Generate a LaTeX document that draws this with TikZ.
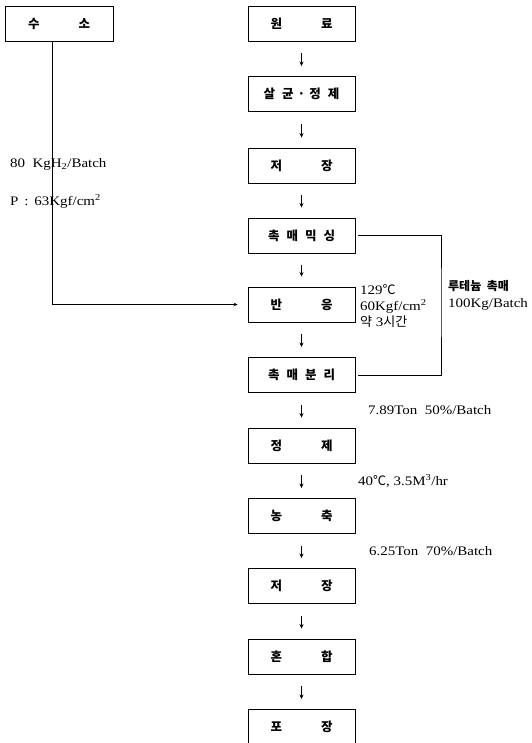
\documentclass[tikz,border=0pt]{standalone}
\usepackage{fontspec}
\setmainfont{Liberation Serif}[FakeStretch=1.15]
\newfontfamily\kr{Noto Sans CJK KR}
\usetikzlibrary{arrows.meta}

% two syllables set wide apart in a box
\newcommand{\spread}[2]{#1\hspace{39pt}#2}

\begin{document}
\begin{tikzpicture}[x=1pt, y=-1pt,
  stage/.style={draw, line width=0.9pt, minimum width=107pt, minimum height=35pt,
    inner sep=0pt, font=\kr\bfseries\fontsize{12.5}{13}\selectfont},
  flow/.style={-{Stealth[length=4.5pt,width=4pt]}, line width=0.7pt,
    shorten <=12pt, shorten >=10pt},
  feed/.style={line width=0.8pt},
  note/.style={anchor=base west, inner sep=0pt, font=\fontsize{13}{16}\selectfont},
  krnote/.style={anchor=base west, inner sep=0pt, font=\kr\bfseries\fontsize{12}{14}\selectfont}]
\useasboundingbox (0,0) rectangle (531,743);

% hydrogen feed
\node[stage, minimum width=108pt] (h2) at (59,23.5) {\spread{수}{소}};

% main line
\node[stage] (raw)    at (301.5,23.5)  {\spread{원}{료}};
\node[stage] (steril) at (301.5,94)    {살\hspace{7pt}균\hspace{4pt}·\hspace{4pt}정\hspace{7pt}제};
\node[stage] (store)  at (301.5,165.5) {\spread{저}{장}};
\node[stage] (mix)    at (301.5,235.5) {촉\hspace{7pt}매\hspace{7pt}믹\hspace{7pt}싱};
\node[stage] (react)  at (301.5,304.5) {\spread{반}{응}};
\node[stage] (sep)    at (301.5,375)   {촉\hspace{7pt}매\hspace{7pt}분\hspace{7pt}리};
\node[stage] (purify) at (301.5,445.5) {\spread{정}{제}};
\node[stage] (conc)   at (301.5,516)   {\spread{농}{축}};
\node[stage] (store2) at (301.5,586)   {\spread{저}{장}};
\node[stage] (blend)  at (301.5,656.5) {\spread{혼}{합}};
\node[stage] (pack)   at (301.5,727)   {\spread{포}{장}};

\draw[flow] (raw) -- (steril);
\draw[flow] (steril) -- (store);
\draw[flow] (store) -- (mix);
\draw[flow] (mix) -- (react);
\draw[flow] (react) -- (sep);
\draw[flow] (sep) -- (purify);
\draw[flow] (purify) -- (conc);
\draw[flow] (conc) -- (store2);
\draw[flow] (store2) -- (blend);
\draw[flow] (blend) -- (pack);

% hydrogen into reactor
\draw[feed, -{Stealth[length=4pt,width=3.5pt]}] ([xshift=-7pt]h2.south) |- ([xshift=-10pt]react.west);
\node[note] (h2rate) at (10,168) {80\ \ KgH\textsubscript{2}/Batch};
\node[note] (h2pres) at (10,205) {P\ \,:\ \,63Kgf/cm\textsuperscript{2}};

% catalyst return
\coordinate (loop) at (441,300);
\draw[feed] ([xshift=3pt]mix.east) -| (loop) |- ([xshift=3pt]sep.east);
\node[krnote] (cat)     at (448,290) {루테늄\ \ 촉매};
\node[note]   (catrate) at (448,307) {100Kg/Batch};

% conditions
\node[note] (temp)  at (360,294) {129{\kr ℃}};
\node[note] (pres)  at (360,310) {60Kgf/cm\textsuperscript{2}};
\node[note] (time)  at (360,326) {{\kr 약} 3{\kr 시간}};
\node[note] (yield1) at (368,414) {7.89Ton\ \ 50\%/Batch};
\node[note] (evap)   at (358,485) {40{\kr ℃}, 3.5M\textsuperscript{3}/hr};
\node[note] (yield2) at (369,555) {6.25Ton\ \ 70\%/Batch};
\end{tikzpicture}
\end{document}
